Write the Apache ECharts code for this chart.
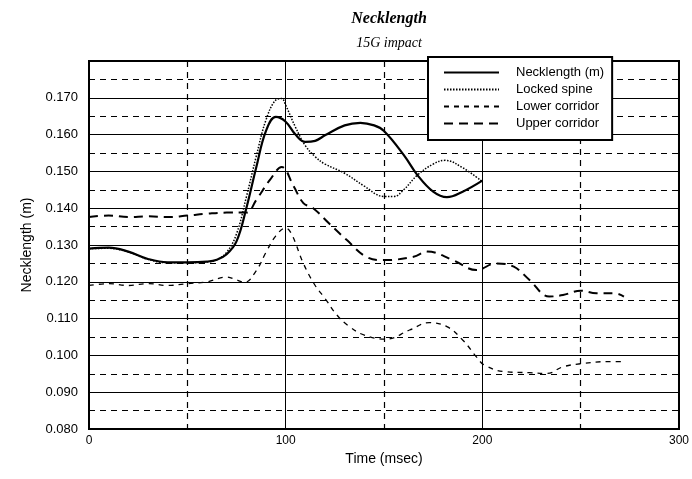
<!DOCTYPE html>
<html><head><meta charset="utf-8">
<script src="https://cdn.jsdelivr.net/npm/echarts@6/dist/echarts.min.js"></script>
<style>html,body{margin:0;padding:0;background:#fff}#c{width:692px;height:479px}</style>
</head><body><div id="c"></div>
<script>
// ---- data ----
const neckT = [0,10,20,30,40,50,60,65,70,75,80,85,90,95,100,105,110,115,120,130,138,145,150,160,167,175,182,190,200];
const neckV = [0.129,0.1293,0.1282,0.1262,0.1253,0.1253,0.1255,0.126,0.1275,0.131,0.140,0.151,0.161,0.1648,0.1635,0.160,0.158,0.1583,0.1598,0.1625,0.1632,0.1625,0.161,0.1545,0.149,0.1445,0.1430,0.1445,0.1475];
const lockT = [0,10,20,30,40,50,60,65,70,75,80,85,90,95,98,100,105,110,115,120,130,140,150,155,160,167,175,181,190,200];
const lockV = [0.129,0.1291,0.1281,0.1261,0.1252,0.1252,0.1254,0.126,0.128,0.133,0.143,0.154,0.164,0.1694,0.1698,0.168,0.162,0.157,0.1540,0.152,0.1495,0.146,0.1432,0.1432,0.145,0.149,0.152,0.153,0.151,0.1472];
const lowT = [0,10,20,30,40,50,60,70,75,79,85,90,95,100,103,109,115,120,126,132,140,151,163,173,182,190,197,201,211,224,233,241,251,263,272];
const lowV = [0.119,0.1195,0.119,0.1195,0.119,0.1195,0.120,0.1213,0.1205,0.1198,0.123,0.128,0.1325,0.1346,0.133,0.125,0.119,0.1155,0.111,0.108,0.1055,0.1044,0.1069,0.1089,0.1078,0.1042,0.0996,0.0974,0.0956,0.0953,0.0951,0.0969,0.0978,0.0983,0.0983];
const upT = [0,10,20,30,40,50,60,70,80,85,92,98,104,109,114,122,131,141,150,165,172,185,197,207,216,224,234,241,250,258,267,272];
const upV = [0.1376,0.138,0.1376,0.1378,0.1376,0.138,0.1385,0.1388,0.1388,0.1422,0.1477,0.1512,0.146,0.1414,0.140,0.1359,0.1314,0.1268,0.1259,0.1268,0.1282,0.1259,0.1232,0.125,0.1241,0.1205,0.116,0.1164,0.1176,0.1169,0.1169,0.116];
const names = ['Necklength (m)','Locked spine','Lower corridor','Upper corridor'];
const xTicks = [0,100,200,300];

const zip = (t,v) => t.map((x,i)=>[x,v[i]]);
const chart = echarts.init(document.getElementById('c'), null, {renderer:'canvas'});
const serif = 'Liberation Serif';
const sans = 'Liberation Sans';
chart.setOption({
  backgroundColor:'#fff',
  animation:false,
  title:[
    {text:'Necklength', left:384, top:6, textAlign:'center',
     textStyle:{fontFamily:serif,fontStyle:'italic',fontWeight:'bold',fontSize:16,color:'#000'}},
    {text:'15G impact', left:384, top:31, textAlign:'center',
     textStyle:{fontFamily:serif,fontStyle:'italic',fontWeight:'normal',fontSize:14,color:'#000'}}
  ],
  grid:{left:89,right:13,top:61,bottom:50,show:true,borderColor:'#000',borderWidth:2,backgroundColor:'transparent'},
  legend:{
    orient:'vertical', left:428, top:57,
    data:names,
    itemWidth:55, itemHeight:14, itemGap:4,
    padding:[9,8,10,15],
    backgroundColor:'#fff', borderColor:'#000', borderWidth:2,
    itemStyle:{color:'rgba(0,0,0,0)',borderColor:'rgba(0,0,0,0)',borderWidth:0,opacity:0},
    textStyle:{fontFamily:sans,fontSize:13,color:'#000',padding:[0,0,0,12]}
  },
  xAxis:{
    type:'value', min:0, max:300, interval:100,
    name:'Time (msec)', nameLocation:'middle', nameGap:22,
    nameTextStyle:{fontFamily:sans,fontSize:14,color:'#000'},
    axisLine:{show:true,lineStyle:{color:'#000',width:2}},
    axisTick:{show:false},
    axisLabel:{fontFamily:sans,fontSize:12,color:'#000',margin:6,
      formatter:v=> xTicks.includes(v)? String(v):''},
    splitLine:{show:true,lineStyle:{color:'#000',width:1,type:'solid'}},
    minorTick:{show:false,splitNumber:2},
    minorSplitLine:{show:true,lineStyle:{color:'#000',width:1.2,type:[6,5]}}
  },
  yAxis:{
    type:'value', min:0.08, max:0.18, interval:0.01,
    name:'Necklength (m)', nameLocation:'middle', nameGap:54,
    nameTextStyle:{fontFamily:sans,fontSize:14,color:'#000'},
    axisLine:{show:true,lineStyle:{color:'#000',width:2}},
    axisTick:{show:false},
    axisLabel:{fontFamily:sans,fontSize:13,color:'#000',margin:11,
      formatter:v=> v>0.1795 ? '' : v.toFixed(3)},
    splitLine:{show:true,lineStyle:{color:'#000',width:1,type:'solid'}},
    minorTick:{show:false,splitNumber:2},
    minorSplitLine:{show:true,lineStyle:{color:'#000',width:1.2,type:[6,5]}}
  },
  series:[
    {name:names[0],type:'line',data:zip(neckT,neckV),smooth:0.4,symbol:'none',z:5,
     lineStyle:{color:'#000',width:2.2,type:'solid'},itemStyle:{color:'#000'}},
    {name:names[1],type:'line',data:zip(lockT,lockV),smooth:0.4,symbol:'none',z:4,
     lineStyle:{color:'#000',width:1.5,type:[1.5,1.5]},itemStyle:{color:'#000'}},
    {name:names[2],type:'line',data:zip(lowT,lowV),smooth:0.4,symbol:'none',z:4,
     lineStyle:{color:'#000',width:1.3,type:[5,5]},itemStyle:{color:'#000'}},
    {name:names[3],type:'line',data:zip(upT,upV),smooth:0.4,symbol:'none',z:4,
     lineStyle:{color:'#000',width:2,type:[9,6]},itemStyle:{color:'#000'}}
  ]
});
</script></body></html>
